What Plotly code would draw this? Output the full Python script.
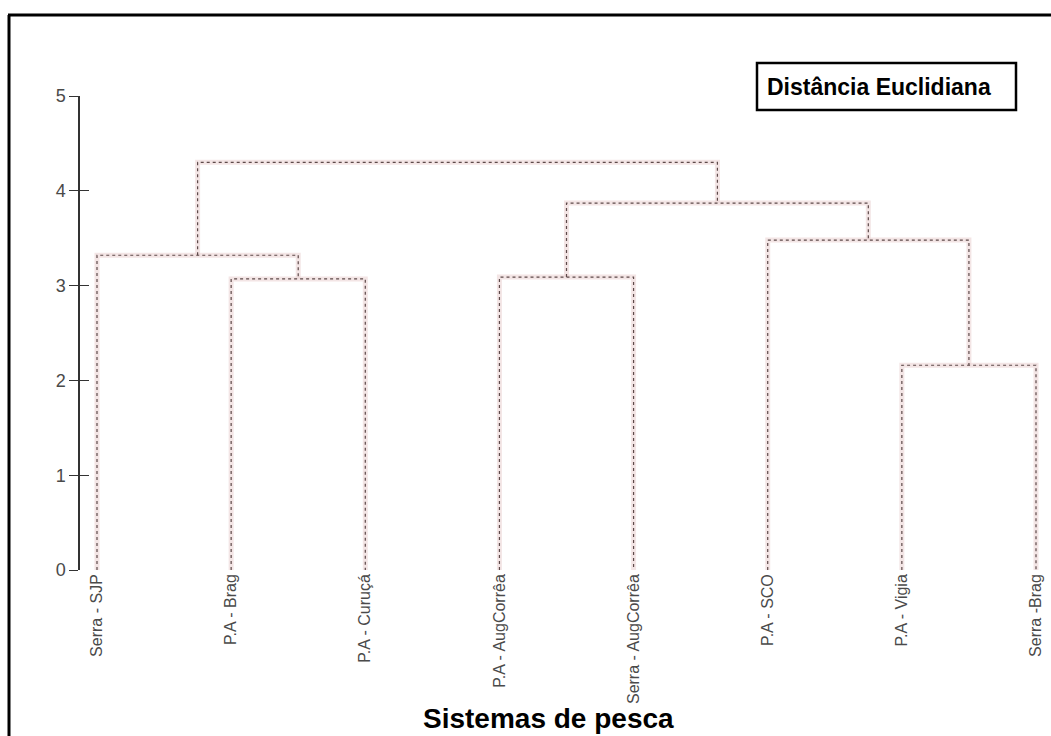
import plotly.graph_objects as go

# ---- data ----
leaf_labels = ["Serra - SJP", "P.A - Brag", "P.A - Curuçá", "P.A - AugCorrêa",
               "Serra - AugCorrêa", "P.A - SCO", "P.A - Vigia", "Serra -Brag"]
# merges (scipy-like): leaves 0..7, new clusters numbered from 8
merge_left = [6, 1, 3, 0, 5, 10, 11]
merge_right = [7, 2, 4, 9, 8, 12, 13]
merge_height = [2.16, 3.07, 3.09, 3.32, 3.48, 3.87, 4.30]
y_ticks = [0, 1, 2, 3, 4, 5]

W, H = 1051, 736
def px(x):
    return x / W
def py(y):
    return 1 - y / H

# ---- dendrogram geometry through the data ----
n = len(leaf_labels)
pos = {i: i + 1 for i in range(n)}
hgt = {i: 0.0 for i in range(n)}
xs, ys = [], []
for k, (a, b, h) in enumerate(zip(merge_left, merge_right, merge_height)):
    cid = n + k
    xa, xb = pos[a], pos[b]
    xs += [xa, xa, xb, xb, None]
    ys += [hgt[a], h, h, hgt[b], None]
    pos[cid] = (xa + xb) / 2
    hgt[cid] = h

fig = go.Figure()
fig.add_trace(go.Scatter(x=xs, y=ys, mode="lines", hoverinfo="skip",
                         line=dict(color="rgba(235,212,212,0.6)", width=5),
                         showlegend=False))
fig.add_trace(go.Scatter(x=xs, y=ys, mode="lines",
                         line=dict(color="#5e4a4a", width=1.2, dash="dot"),
                         showlegend=False))
# helper trace for crossing ticks axis
fig.add_trace(go.Scatter(x=[None], y=[None], yaxis="y2", showlegend=False))

ydom = [py(570), py(96)]
fig.update_layout(
    width=W, height=H, autosize=False,
    margin=dict(l=0, r=0, t=0, b=0, pad=0),
    paper_bgcolor="white", plot_bgcolor="white",
    font=dict(family="Arial, Liberation Sans, sans-serif"),
    xaxis=dict(domain=[0, 1], range=[1 - 97 / 134.14, 8 + 15 / 134.14],
               anchor="y", showline=False, showgrid=False, zeroline=False,
               automargin=False,
               ticks="", tickvals=list(range(1, n + 1)), ticktext=leaf_labels,
               tickangle=-90, tickfont=dict(size=16, color="#4a4a4a")),
    yaxis=dict(domain=ydom, range=[0, 5], anchor="free", position=px(79),
               automargin=False,
               showline=True, linecolor="#333", linewidth=1.5,
               ticks="outside", ticklen=9, tickcolor="#333", tickwidth=1.2,
               tickvals=y_ticks, showgrid=False, zeroline=False,
               tickfont=dict(size=18, color="#4a4a4a")),
    yaxis2=dict(overlaying="y", range=[0, 5], anchor="free", position=px(79),
                automargin=False,
                showline=False, ticks="inside", ticklen=9, tickcolor="#333",
                tickwidth=1.2, tickvals=y_ticks, showticklabels=False,
                showgrid=False, zeroline=False),
    shapes=[
        dict(type="line", xref="paper", yref="paper", x0=px(8), x1=1.0,
             y0=py(15), y1=py(15), line=dict(color="black", width=3)),
        dict(type="line", xref="paper", yref="paper", x0=px(9), x1=px(9),
             y0=py(15), y1=0, line=dict(color="black", width=3)),
        dict(type="rect", xref="paper", yref="paper", x0=px(757), x1=px(1016),
             y0=py(110), y1=py(63), line=dict(color="black", width=2.5)),
    ],
    annotations=[
        dict(text="<b>Distância Euclidiana</b>", xref="paper", yref="paper",
             x=px(765), y=py(87), xanchor="left", yanchor="middle",
             showarrow=False, font=dict(size=23, color="black")),
        dict(text="<b>Sistemas de pesca</b>", xref="paper", yref="paper",
             x=px(548), y=py(718), xanchor="center", yanchor="middle",
             showarrow=False, font=dict(size=28, color="black")),
    ],
)
fig.write_html("out.html", config={"displayModeBar": False},
               post_script="document.body.style.margin='0';"
                           "document.body.style.overflow='hidden';")
